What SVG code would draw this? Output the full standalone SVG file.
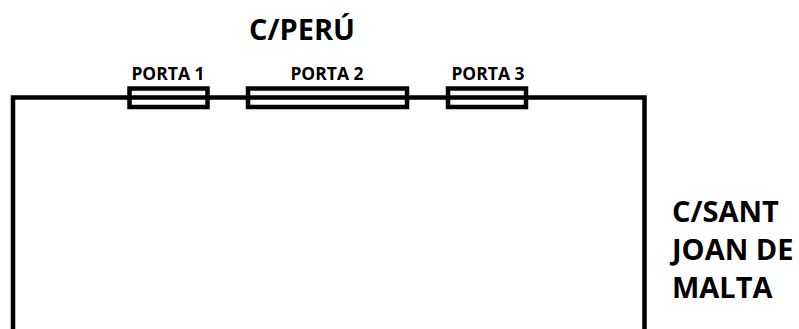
<svg xmlns="http://www.w3.org/2000/svg" width="799" height="329" viewBox="0 0 799 329">
<style>
.lbl{font-family:"Open Sans","Noto Sans","Liberation Sans",sans-serif;font-weight:700;fill:#000}
.big{font-size:29px}
.small{font-size:17.5px}
.door{fill:none;stroke:#000;stroke-width:4.5}
.wall{fill:none;stroke:#000;stroke-width:4.5;stroke-linejoin:miter}
</style>
<rect width="799" height="329" fill="#fff"/>
<g id="connectors">
<polyline class="wall" points="13,329 13,97.5 644.5,97.5 644.5,329"/>
</g>
<g id="porta1">
<rect class="door" x="129.5" y="88.5" width="78" height="18.5"/>
<text class="lbl small" x="168" y="80" text-anchor="middle">PORTA 1</text>
</g>
<g id="porta2">
<rect class="door" x="248" y="88.5" width="159" height="18.5"/>
<text class="lbl small" x="327" y="80" text-anchor="middle">PORTA 2</text>
</g>
<g id="porta3">
<rect class="door" x="448" y="88.5" width="78" height="18.5"/>
<text class="lbl small" x="488" y="80" text-anchor="middle">PORTA 3</text>
</g>
<g id="street-peru">
<text class="lbl big" x="302" y="40" text-anchor="middle">C/PERÚ</text>
</g>
<g id="street-sant-joan">
<text class="lbl big" x="672" y="222">C/SANT</text>
<text class="lbl big" x="672" y="260">JOAN DE</text>
<text class="lbl big" x="672" y="298">MALTA</text>
</g>
</svg>
